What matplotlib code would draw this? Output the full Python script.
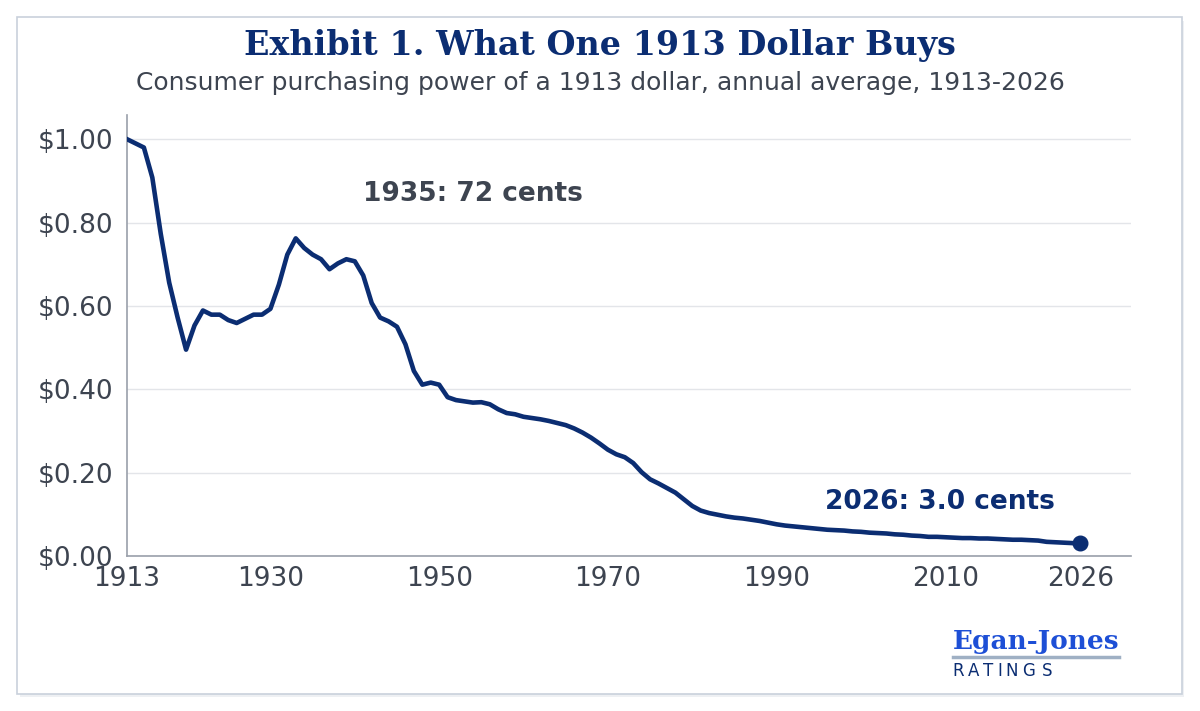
import matplotlib
matplotlib.use('Agg')
import matplotlib.pyplot as plt
from matplotlib.patches import Rectangle
from matplotlib.lines import Line2D

# purchasing power of a 1913 dollar
anyos = list(range(1913, 2027))
valores = [
    1.000, 0.990, 0.980, 0.908, 0.773, 0.656, 0.572, 0.495, 0.553, 0.589,  # 1913-1922
    0.579, 0.579, 0.566, 0.559, 0.569, 0.579, 0.579, 0.593, 0.651, 0.723,  # 1923-1932
    0.762, 0.739, 0.723, 0.712, 0.688, 0.702, 0.712, 0.707, 0.673, 0.607,  # 1933-1942
    0.572, 0.563, 0.550, 0.508, 0.444, 0.411, 0.416, 0.411, 0.381, 0.374,  # 1943-1952
    0.371, 0.368, 0.369, 0.364, 0.352, 0.343, 0.340, 0.334, 0.331, 0.328,  # 1953-1962
    0.324, 0.319, 0.314, 0.306, 0.296, 0.284, 0.270, 0.255, 0.244, 0.237,  # 1963-1972
    0.223, 0.201, 0.184, 0.174, 0.163, 0.152, 0.136, 0.120, 0.109, 0.103,  # 1973-1982
    0.099, 0.095, 0.092, 0.090, 0.087, 0.084, 0.080, 0.076, 0.073, 0.071,  # 1983-1992
    0.069, 0.067, 0.065, 0.063, 0.062, 0.061, 0.059, 0.058, 0.056, 0.055,  # 1993-2002
    0.054, 0.052, 0.051, 0.049, 0.048, 0.046, 0.046, 0.045, 0.044, 0.043,  # 2003-2012
    0.043, 0.042, 0.042, 0.041, 0.040, 0.039, 0.039, 0.038, 0.037, 0.034,  # 2013-2022
    0.033, 0.032, 0.031, 0.030,                                            # 2023-2026
]

ticks_x = [1913, 1930, 1950, 1970, 1990, 2010, 2026]
ticks_y = [0.0, 0.2, 0.4, 0.6, 0.8, 1.0]
etiquetas_y = ['$0.00', '$0.20', '$0.40', '$0.60', '$0.80', '$1.00']

titulo = 'Exhibit 1. What One 1913 Dollar Buys'
subtitulo = 'Consumer purchasing power of a 1913 dollar, annual average, 1913-2026'

AZUL = '#0b2d72'
GRIS = '#3d4450'

fig = plt.figure(figsize=(12, 7.11), dpi=100)
fig.patch.set_facecolor('white')

# card border with a soft shadow (behind the axes)
fig.patches.append(Rectangle((20 / 1200, 1 - 697 / 711), 1164 / 1200, 676 / 711,
                             transform=fig.transFigure, fill=True, facecolor='#eef0f3',
                             edgecolor='none', zorder=-2))
fig.patches.append(Rectangle((17 / 1200, 1 - 694 / 711), 1165 / 1200, 677 / 711,
                             transform=fig.transFigure, facecolor='white',
                             edgecolor='#c9d1dc', linewidth=1.2, zorder=-1))

ax = fig.add_axes([127 / 1200, 1 - 556 / 711, 1004 / 1200, 441 / 711])
ax.patch.set_alpha(0)
ax.plot(anyos, valores, color=AZUL, linewidth=3.3, solid_joinstyle='round', zorder=3)
ax.plot([anyos[-1]], [valores[-1]], 'o', color=AZUL, markersize=10.5, zorder=4)

ax.set_xlim(1913, 2032)
ax.set_ylim(0, 1.058)
ax.set_xticks(ticks_x)
ax.set_yticks(ticks_y)
ax.set_yticklabels(etiquetas_y)
ax.tick_params(length=0, labelsize=19, labelcolor=GRIS)
ax.tick_params(axis='x', pad=7)
ax.tick_params(axis='y', pad=10)
ax.grid(axis='y', color='#e3e5e9', linewidth=1)
ax.set_axisbelow(True)
for s in ['top', 'right']:
    ax.spines[s].set_visible(False)
for s in ['left', 'bottom']:
    ax.spines[s].set_color('#9aa0aa')
    ax.spines[s].set_linewidth(1.2)

ax.text(1954, 0.868, '1935: 72 cents', color=GRIS, fontsize=19, fontweight='bold',
        ha='center', va='center')
ax.text(2009.3, 0.13, '2026: 3.0 cents', color=AZUL, fontsize=19, fontweight='bold',
        ha='center', va='center')

fig.text(0.5, 1 - 45 / 711, titulo, family='DejaVu Serif', fontweight='bold',
         fontsize=24, color=AZUL, ha='center', va='center')
fig.text(0.5, 1 - 83 / 711, subtitulo, fontsize=18, color=GRIS, ha='center', va='center')

# logo
fig.text(1036 / 1200, 1 - 641 / 711, 'Egan-Jones', family='DejaVu Serif', fontweight='bold',
         fontsize=19, color='#1d4fd6', ha='center', va='center')
fig.lines.append(Line2D([953 / 1200, 1119 / 1200], [1 - 657 / 711, 1 - 657 / 711],
                        transform=fig.transFigure, color='#9fb0c4', linewidth=2.5))
for letra, xp in zip('RATINGS', [958, 974, 988, 1000, 1012, 1029, 1047]):
    fig.text(xp / 1200, 1 - 671 / 711, letra, fontsize=12, color=AZUL,
             ha='center', va='center')

fig.savefig('out.png', dpi=100, facecolor='white')
